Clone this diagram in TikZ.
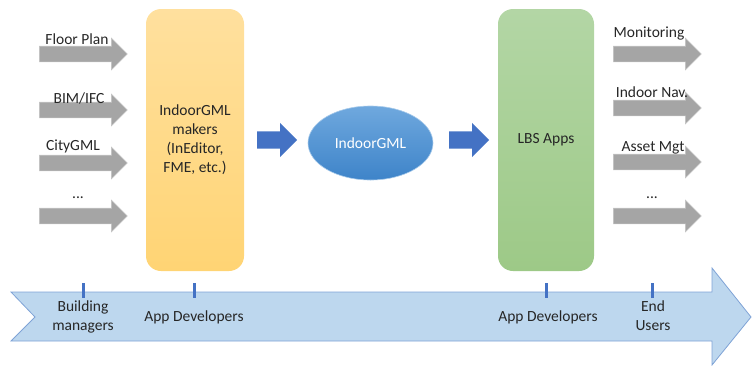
\documentclass[tikz,border=0pt]{standalone}
\usepackage{fontspec}
\setmainfont{Carlito}
\usetikzlibrary{shapes.arrows,shapes.geometric}
\definecolor{txt}{HTML}{262626}
\definecolor{arrowgray}{HTML}{A5A5A5}
\definecolor{arrowgrayedge}{HTML}{C4C4C4}
\definecolor{flowblue}{HTML}{4472C4}
\definecolor{makertop}{HTML}{FFE09E}
\definecolor{makerbot}{HTML}{FFD474}
\definecolor{appstop}{HTML}{B3D6A5}
\definecolor{appsbot}{HTML}{9DC987}
\definecolor{gmltop}{HTML}{6FA8DE}
\definecolor{gmlbot}{HTML}{3E84C9}
\definecolor{bandfill}{HTML}{BDD7EE}
\definecolor{bandedge}{HTML}{7FA3D6}
\begin{document}
\begin{tikzpicture}[x=1pt,y=-1pt,
  font=\fontsize{15.5}{19}\selectfont, text=txt,
  grayarrow/.style={single arrow, fill=arrowgray, draw=arrowgrayedge,
    line width=0.6pt, minimum height=88pt, minimum width=31pt,
    single arrow head extend=8pt, single arrow head indent=0pt,
    inner xsep=0pt, inner ysep=7.5pt, anchor=west},
  bluearrow/.style={single arrow, fill=flowblue, draw=none,
    minimum height=40pt, minimum width=34pt,
    single arrow head extend=8.5pt, single arrow head indent=0pt,
    inner xsep=0pt, inner ysep=8.5pt, anchor=west},
  stagebox/.style={rounded corners=15pt, minimum width=98pt,
    minimum height=262pt, align=center, inner sep=0pt},
  lbl/.style={inner sep=0pt, align=center},
  tick/.style={draw=flowblue, line width=3pt}]
\useasboundingbox (0,0) rectangle (752,365);

% timeline band with notched tail and arrow head
\path[fill=bandfill, draw=bandedge, line width=0.8pt]
  (11,292) -- (712,292) -- (712,268) -- (751,317) -- (712,365)
  -- (712,341) -- (11,341) -- (35,317) -- cycle;

% processing stages
\node[stagebox, top color=makertop, bottom color=makerbot] (maker)
  at (195,140) {IndoorGML\\makers\\(InEditor,\\FME, etc.)};
\node[stagebox, minimum width=96pt, top color=appstop, bottom color=appsbot] (apps)
  at (546,140) {LBS Apps};
\node[ellipse, minimum width=125pt, minimum height=74pt, inner sep=0pt,
  top color=gmltop, bottom color=gmlbot, draw=gmltop!60!white, line width=0.6pt,
  text=white] (gml) at (370.5,143) {IndoorGML};

% flow between stages
\node[bluearrow] (a1) at (257,140) {};
\node[bluearrow] (a2) at (449,140) {};

% input sources
\node[grayarrow] (in1) at (39,54) {};
\node[grayarrow] (in2) at (39,110) {};
\node[grayarrow] (in3) at (39,163) {};
\node[grayarrow] (in4) at (39,216) {};
\node[lbl] (lin1) at (77,39) {Floor Plan};
\node[lbl] (lin2) at (79,98) {BIM/IFC};
\node[lbl] (lin3) at (73,146) {CityGML};
\node[lbl] (lin4) at (78,198) {...};

% applications
\node[grayarrow] (out1) at (613,54) {};
\node[grayarrow] (out2) at (613,108) {};
\node[grayarrow] (out3) at (613,162) {};
\node[grayarrow] (out4) at (613,216) {};
\node[lbl] (lout1) at (649,33) {Monitoring};
\node[lbl] (lout2) at (652,92) {Indoor Nav.};
\node[lbl] (lout3) at (653,148) {Asset Mgt};
\node[lbl] (lout4) at (652,198) {...};

% actors along the timeline
\foreach \x/\n in {83/t1,194/t2,546/t3,652/t4}{
  \coordinate (\n a) at (\x,283);
  \coordinate (\n b) at (\x,298);
  \draw[tick] (\n a) -- (\n b);
}
\node[lbl] (r1) at (83,317) {Building\\managers};
\node[lbl] (r2) at (194,317) {App Developers};
\node[lbl] (r3) at (548,317) {App Developers};
\node[lbl] (r4) at (653,316) {End\\Users};
\end{tikzpicture}
\end{document}
